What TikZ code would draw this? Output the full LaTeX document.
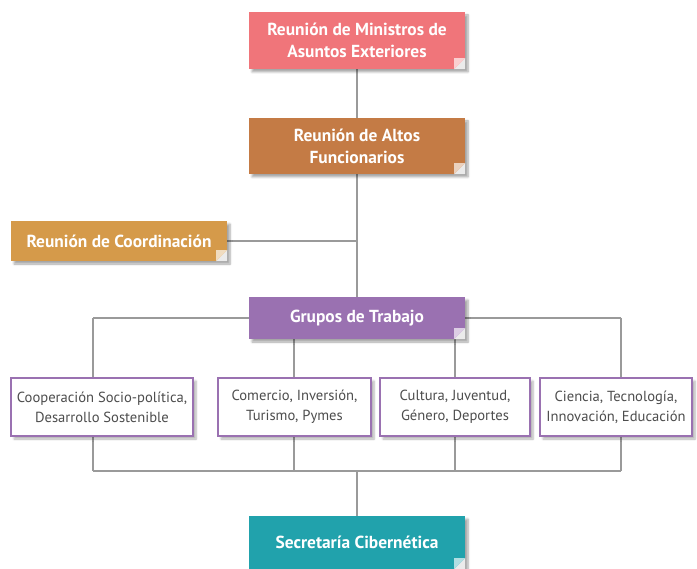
\documentclass[tikz,border=0pt]{standalone}
\usepackage{fontspec}
\setmainfont{PT Sans}
\usetikzlibrary{shadows.blur}
\usetikzlibrary{backgrounds}
\definecolor{ministros}{HTML}{F0757A}
\definecolor{altos}{HTML}{C47B45}
\definecolor{coordina}{HTML}{D59A4A}
\definecolor{grupos}{HTML}{9A71B1}
\definecolor{secretaria}{HTML}{21A2AC}
\definecolor{linkgray}{HTML}{9A9A9A}
\definecolor{textgray}{HTML}{4D4D4D}
\tikzset{
    headbox/.style={fill=#1, text=white, font=\bfseries\fontsize{17.4}{22}\selectfont,
        align=center, minimum width=216pt, inner sep=0pt,
        blur shadow={shadow xshift=3pt, shadow yshift=-3pt, shadow blur steps=6, shadow opacity=35}},
    workbox/.style={draw=grupos, line width=1.2pt, fill=white, text=textgray,
        font=\fontsize{14.6}{20}\selectfont, align=center, minimum height=58pt, inner sep=0pt,
        blur shadow={shadow xshift=3pt, shadow yshift=-3pt, shadow blur steps=6, shadow opacity=30}},
    link/.style={draw=linkgray, line width=1.2pt},
}
% folded corner at the bottom right of a box
\newcommand{\foldcorner}[2]{
    \fill[black!8] (#1.south east) ++(-11,0) -- ++(11,-11) -- ++(0,11) -- cycle;
    \fill[#2!35!white] (#1.south east) ++(-11,0) -- ++(0,-11) -- ++(11,0) -- cycle;
}

\begin{document}
\begin{tikzpicture}[x=1pt, y=-1pt]
    \useasboundingbox (0,0) rectangle (697,569);

    \node[headbox=ministros, minimum height=57pt] (ministros) at (357,40.5) {Reunión de Ministros de\\Asuntos Exteriores};
    \node[headbox=altos, minimum height=56pt] (altos) at (357,146) {Reunión de Altos\\Funcionarios};
    \node[headbox=coordina, minimum height=40pt] (coordinacion) at (119,241) {Reunión de Coordinación};
    \node[headbox=grupos, minimum height=42pt] (grupos) at (357,318) {Grupos de Trabajo};
    \node[headbox=secretaria, minimum height=53pt] (secretaria) at (357,542.5) {Secretaría Cibernética};

    \node[workbox, minimum width=182pt] (coop) at (102,407) {Cooperación Socio-política,\\Desarrollo Sostenible};
    \node[workbox, minimum width=153pt] (comercio) at (294.5,407) {Comercio, Inversión,\\Turismo, Pymes};
    \node[workbox, minimum width=150pt] (cultura) at (455,407) {Cultura, Juventud,\\Género, Deportes};
    \node[workbox, minimum width=152pt] (ciencia) at (616,407) {Ciencia, Tecnología,\\Innovación, Educación};

    \foreach \n/\c in {ministros/ministros, altos/altos, coordinacion/coordina, grupos/grupos, secretaria/secretaria}
        {\foldcorner{\n}{\c}}

    % connectors, behind the boxes
    \begin{scope}[on background layer]
        \draw[link] (ministros) -- (altos);
        \draw[link] (altos) -- (grupos);
        \draw[link] (coordinacion.east) -- (coordinacion.east -| altos.south);
        \foreach \n/\x in {coop/93, comercio/294, cultura/455, ciencia/621} {
            \coordinate (top\n) at (\x,318);
            \coordinate (bot\n) at (\x,471);
            \draw[link] (top\n) -- (top\n |- \n.north);
            \draw[link] (\n.south -| bot\n) -- (bot\n);
        }
        \draw[link] (topcoop) -- (topciencia);
        \draw[link] (botcoop) -- (botciencia);
        \draw[link] (botcoop -| secretaria.north) -- (secretaria.north);
    \end{scope}
\end{tikzpicture}
\end{document}
